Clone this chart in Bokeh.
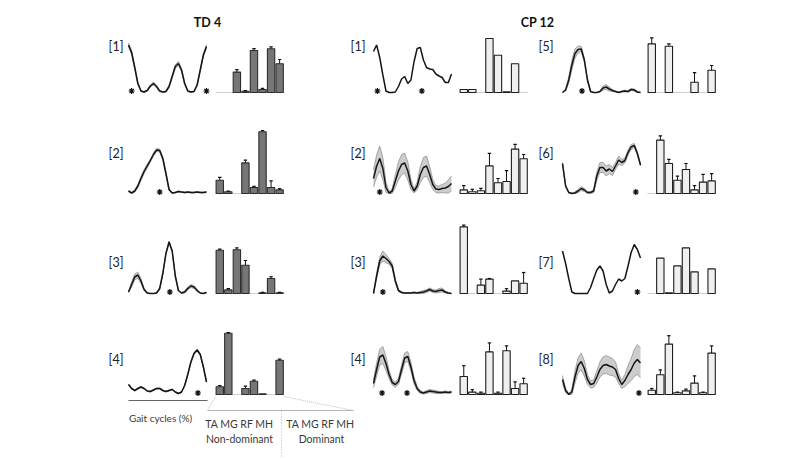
import numpy as np
from bokeh.plotting import figure
from bokeh.models import Range1d
from bokeh.embed import file_html
from bokeh.resources import INLINE
from bokeh.core.properties import value

# ---------------- data ----------------
gait_pct = list(range(0, 101, 4))          # gait cycle (%) sample points
muscles = ["TA", "MG", "RF", "MH", "TA", "MG", "RF", "MH"]

# TD 4 -------------------------------------------------------------
td1_mean = [0.95, 0.80, 0.50, 0.18, 0.03, 0.01, 0.04, 0.13, 0.18, 0.12, 0.03, 0.01, 0.02,
            0.12, 0.32, 0.52, 0.58, 0.45, 0.18, 0.03, 0.01, 0.02, 0.15, 0.45, 0.75, 0.92]
td1_sd = [0.04, 0.04, 0.03, 0.02, 0.01, 0.01, 0.01, 0.02, 0.03, 0.02, 0.01, 0.01, 0.01,
          0.02, 0.03, 0.04, 0.04, 0.03, 0.02, 0.01, 0.01, 0.01, 0.02, 0.03, 0.03, 0.04]
td1_stars = [4, 100]
td1_bars = [0.0, 0.0, 0.34, 0.02, 0.70, 0.05, 0.73, 0.48]
td1_err = [0.0, 0.0, 0.04, 0.01, 0.03, 0.02, 0.03, 0.07]

td2_mean = [0.05, 0.01, 0.05, 0.15, 0.30, 0.44, 0.55, 0.66, 0.78, 0.87, 0.86, 0.70, 0.40,
            0.08, 0.01, 0.02, 0.04, 0.03, 0.02, 0.03, 0.02, 0.02, 0.03, 0.02, 0.02, 0.03]
td2_sd = [0.01, 0.01, 0.02, 0.03, 0.04, 0.04, 0.04, 0.03, 0.03, 0.03, 0.03, 0.03, 0.03,
          0.02, 0.01, 0.01, 0.01, 0.01, 0.01, 0.01, 0.01, 0.01, 0.01, 0.01, 0.01, 0.01]
td2_stars = [40]
td2_bars = [0.22, 0.03, 0.0, 0.51, 0.10, 1.03, 0.10, 0.06]
td2_err = [0.05, 0.01, 0.0, 0.045, 0.02, 0.02, 0.11, 0.02]

td3_mean = [0.03, 0.18, 0.33, 0.37, 0.25, 0.08, 0.01, 0.0, 0.0, 0.01, 0.10, 0.40, 0.80,
            1.03, 0.85, 0.35, 0.06, 0.01, 0.03, 0.10, 0.15, 0.13, 0.06, 0.01, 0.0, 0.02]
td3_sd = [0.01, 0.05, 0.06, 0.06, 0.05, 0.02, 0.01, 0.0, 0.0, 0.01, 0.02, 0.02, 0.02,
          0.02, 0.02, 0.02, 0.01, 0.01, 0.02, 0.03, 0.03, 0.03, 0.02, 0.01, 0.0, 0.01]
td3_stars = [53]
td3_bars = [0.72, 0.06, 0.73, 0.47, 0.0, 0.01, 0.25, 0.01]
td3_err = [0.02, 0.02, 0.03, 0.08, 0.0, 0.01, 0.03, 0.01]

td4_mean = [0.20, 0.12, 0.08, 0.12, 0.15, 0.12, 0.07, 0.06, 0.09, 0.12, 0.12, 0.08, 0.06,
            0.08, 0.10, 0.05, 0.02, 0.05, 0.18, 0.40, 0.65, 0.82, 0.89, 0.80, 0.55, 0.25]
td4_sd = [0.01, 0.01, 0.01, 0.01, 0.01, 0.01, 0.01, 0.01, 0.01, 0.01, 0.01, 0.01, 0.01,
          0.01, 0.01, 0.01, 0.01, 0.01, 0.01, 0.02, 0.02, 0.02, 0.02, 0.02, 0.02, 0.01]
td4_stars = [89]
td4_bars = [0.13, 1.02, 0.0, 0.10, 0.22, 0.01, 0.0, 0.57]
td4_err = [0.02, 0.01, 0.0, 0.04, 0.02, 0.0, 0.0, 0.02]

# CP 12 ------------------------------------------------------------
cp1_mean = [0.82, 0.95, 0.70, 0.35, 0.03, 0.0, 0.0, 0.01, 0.12, 0.27, 0.32, 0.18, 0.25,
            0.62, 0.88, 0.90, 0.65, 0.50, 0.47, 0.46, 0.37, 0.33, 0.30, 0.20, 0.20, 0.37]
cp1_sd = [0.0] * 26
cp1_stars = [5, 62]
cp1_bars = [0.05, 0.05, 0.0, 0.90, 0.62, 0.01, 0.48, 0.0]
cp1_err = [0.0] * 8

cp2_mean = [0.30, 0.55, 0.70, 0.50, 0.12, 0.01, 0.05, 0.25, 0.45, 0.58, 0.61, 0.45, 0.18,
            0.05, 0.15, 0.38, 0.52, 0.55, 0.38, 0.18, 0.09, 0.08, 0.10, 0.11, 0.14, 0.20]
cp2_sd = [0.17, 0.22, 0.25, 0.22, 0.10, 0.03, 0.05, 0.12, 0.18, 0.20, 0.20, 0.18, 0.10,
          0.04, 0.08, 0.16, 0.20, 0.20, 0.16, 0.10, 0.07, 0.07, 0.08, 0.10, 0.13, 0.15]
cp2_stars = [8]
cp2_bars = [0.06, 0.03, 0.045, 0.46, 0.18, 0.20, 0.74, 0.58]
cp2_err = [0.07, 0.04, 0.04, 0.21, 0.07, 0.18, 0.08, 0.07]

cp3_mean = [0.0, 0.35, 0.65, 0.75, 0.70, 0.64, 0.55, 0.25, 0.06, 0.02, 0.01, 0.01, 0.01,
            0.02, 0.01, 0.02, 0.03, 0.05, 0.08, 0.05, 0.04, 0.06, 0.07, 0.03, 0.01, 0.0]
cp3_sd = [0.0, 0.05, 0.08, 0.10, 0.08, 0.06, 0.05, 0.04, 0.02, 0.01, 0.01, 0.01, 0.01,
          0.01, 0.01, 0.02, 0.03, 0.03, 0.03, 0.03, 0.03, 0.04, 0.04, 0.02, 0.01, 0.0]
cp3_stars = [12]
cp3_bars = [1.11, 0.0, 0.14, 0.24, 0.0, 0.04, 0.21, 0.17]
cp3_err = [0.03, 0.0, 0.10, 0.01, 0.0, 0.04, 0.0, 0.18]

cp4_mean = [0.22, 0.50, 0.75, 0.79, 0.62, 0.40, 0.24, 0.20, 0.26, 0.50, 0.73, 0.76, 0.55,
            0.28, 0.12, 0.05, 0.03, 0.05, 0.07, 0.06, 0.05, 0.04, 0.04, 0.05, 0.04, 0.05]
cp4_sd = [0.08, 0.13, 0.16, 0.17, 0.14, 0.08, 0.05, 0.05, 0.06, 0.09, 0.10, 0.10, 0.09,
          0.07, 0.04, 0.03, 0.02, 0.03, 0.03, 0.03, 0.03, 0.02, 0.02, 0.02, 0.02, 0.02]
cp4_stars = [11, 43]
cp4_bars = [0.30, 0.04, 0.02, 0.71, 0.02, 0.73, 0.10, 0.18]
cp4_err = [0.18, 0.04, 0.02, 0.15, 0.02, 0.08, 0.11, 0.09]

cp5_mean = [0.0, 0.05, 0.25, 0.55, 0.78, 0.86, 0.87, 0.65, 0.25, 0.02, 0.0, 0.0, 0.02,
            0.09, 0.11, 0.07, 0.04, 0.02, 0.0, 0.02, 0.03, 0.02, 0.06, 0.05, 0.01, 0.0]
cp5_sd = [0.0, 0.02, 0.06, 0.10, 0.09, 0.07, 0.05, 0.04, 0.03, 0.01, 0.0, 0.0, 0.01,
          0.04, 0.05, 0.04, 0.02, 0.01, 0.01, 0.01, 0.02, 0.01, 0.02, 0.02, 0.01, 0.0]
cp5_stars = [25]
cp5_bars = [0.81, 0.0, 0.77, 0.0, 0.0, 0.17, 0.0, 0.37]
cp5_err = [0.10, 0.0, 0.04, 0.0, 0.0, 0.16, 0.0, 0.08]

cp6_mean = [0.60, 0.15, 0.02, 0.0, 0.01, 0.05, 0.10, 0.07, 0.02, 0.02, 0.05, 0.35, 0.52,
            0.52, 0.45, 0.49, 0.44, 0.55, 0.67, 0.62, 0.66, 0.82, 0.93, 0.96, 0.80, 0.57]
cp6_sd = [0.02, 0.02, 0.01, 0.01, 0.02, 0.03, 0.04, 0.03, 0.02, 0.02, 0.03, 0.08, 0.10,
          0.10, 0.10, 0.09, 0.08, 0.07, 0.08, 0.06, 0.05, 0.05, 0.05, 0.04, 0.03, 0.02]
cp6_stars = [94]
cp6_bars = [0.0, 0.89, 0.50, 0.22, 0.40, 0.06, 0.19, 0.21]
cp6_err = [0.0, 0.07, 0.07, 0.07, 0.10, 0.07, 0.13, 0.12]

cp7_mean = [0.85, 0.60, 0.30, 0.03, 0.0, 0.0, 0.0, 0.0, 0.0, 0.12, 0.30, 0.47, 0.55,
            0.45, 0.18, 0.01, 0.05, 0.18, 0.29, 0.25, 0.30, 0.55, 0.82, 0.98, 0.88, 0.71]
cp7_sd = [0.0] * 26
cp7_stars = [96]
cp7_bars = [0.0, 0.59, 0.01, 0.46, 0.76, 0.36, 0.0, 0.41]
cp7_err = [0.0] * 8

cp8_mean = [0.30, 0.08, 0.0, 0.05, 0.35, 0.58, 0.66, 0.52, 0.30, 0.20, 0.22, 0.35, 0.50,
            0.58, 0.60, 0.57, 0.55, 0.50, 0.32, 0.20, 0.28, 0.40, 0.50, 0.63, 0.70, 0.63]
cp8_sd = [0.08, 0.04, 0.02, 0.05, 0.12, 0.15, 0.17, 0.15, 0.10, 0.07, 0.08, 0.12, 0.15,
          0.17, 0.18, 0.18, 0.17, 0.15, 0.10, 0.08, 0.12, 0.18, 0.22, 0.27, 0.30, 0.30]
cp8_stars = [98]
cp8_bars = [0.07, 0.33, 0.84, 0.03, 0.06, 0.19, 0.03, 0.69]
cp8_err = [0.03, 0.08, 0.14, 0.01, 0.03, 0.12, 0.01, 0.12]

group_titles = ["TD 4", "CP 12"]
panel_labels = ["[1]", "[2]", "[3]", "[4]", "[1]", "[2]", "[3]", "[4]",
                "[5]", "[6]", "[7]", "[8]"]

# panels: (label, column, row, mean, sd, stars, bars, err, group)
panels = [
    (panel_labels[0], 0, 0, td1_mean, td1_sd, td1_stars, td1_bars, td1_err, "td"),
    (panel_labels[1], 0, 1, td2_mean, td2_sd, td2_stars, td2_bars, td2_err, "td"),
    (panel_labels[2], 0, 2, td3_mean, td3_sd, td3_stars, td3_bars, td3_err, "td"),
    (panel_labels[3], 0, 3, td4_mean, td4_sd, td4_stars, td4_bars, td4_err, "td"),
    (panel_labels[4], 1, 0, cp1_mean, cp1_sd, cp1_stars, cp1_bars, cp1_err, "cp"),
    (panel_labels[5], 1, 1, cp2_mean, cp2_sd, cp2_stars, cp2_bars, cp2_err, "cp"),
    (panel_labels[6], 1, 2, cp3_mean, cp3_sd, cp3_stars, cp3_bars, cp3_err, "cp"),
    (panel_labels[7], 1, 3, cp4_mean, cp4_sd, cp4_stars, cp4_bars, cp4_err, "cp"),
    (panel_labels[8], 2, 0, cp5_mean, cp5_sd, cp5_stars, cp5_bars, cp5_err, "cp"),
    (panel_labels[9], 2, 1, cp6_mean, cp6_sd, cp6_stars, cp6_bars, cp6_err, "cp"),
    (panel_labels[10], 2, 2, cp7_mean, cp7_sd, cp7_stars, cp7_bars, cp7_err, "cp"),
    (panel_labels[11], 2, 3, cp8_mean, cp8_sd, cp8_stars, cp8_bars, cp8_err, "cp"),
]

# ---------------- layout ----------------
W, H = 785, 459
curve_left = [128, 373, 562]
curve_w = 78.0
bar_left = [215, 459, 647]
bar_slot = 8.55
row_base = [92, 193, 293, 394]
curve_px = 50.0
bar_px = 60.0
label_right = [123, 365, 553]
label_y = [46, 153, 262, 359]
FONT = "Lato"

p = figure(width=W, height=H, x_range=Range1d(0, W), y_range=Range1d(H, 0),
           output_backend="svg", toolbar_location=None,
           x_axis_location=None, y_axis_location=None, min_border=0,
           outline_line_color=None, background_fill_color="white",
           border_fill_color="white")
p.xgrid.visible = False
p.ygrid.visible = False


def xrange_for(left_px, px_per_unit):
    start = -left_px / px_per_unit
    return Range1d(start, start + W / px_per_unit)


def yrange_for(base_px, px_per_unit):
    up = H - base_px
    start = -up / px_per_unit
    return Range1d(start, start + H / px_per_unit)


for c in range(3):
    p.extra_x_ranges["cx%d" % c] = xrange_for(curve_left[c], curve_w / 100.0)
    p.extra_x_ranges["bx%d" % c] = xrange_for(bar_left[c], bar_slot)
for r in range(4):
    p.extra_y_ranges["cy%d" % r] = yrange_for(row_base[r], curve_px)
    p.extra_y_ranges["by%d" % r] = yrange_for(row_base[r], bar_px)

for label, c, r, mean, sd, stars, bars, err, grp in panels:
    cx, cy, bx, by = "cx%d" % c, "cy%d" % r, "bx%d" % c, "by%d" % r
    m = np.array(mean)
    s = np.array(sd)
    if s.max() > 0:
        lo = np.maximum(m - s, 0.0)
        hi = m + s
        p.varea(x=gait_pct, y1=lo, y2=hi, fill_color="#cccccc",
                x_range_name=cx, y_range_name=cy)
        p.line(gait_pct, hi, line_color="#939393", line_width=0.8,
               x_range_name=cx, y_range_name=cy)
        p.line(gait_pct, lo, line_color="#939393", line_width=0.8,
               x_range_name=cx, y_range_name=cy)
    p.line(gait_pct, m, line_color="#151515", line_width=1.5,
           x_range_name=cx, y_range_name=cy)
    p.scatter(x=stars, y=[0.03] * len(stars), marker="asterisk", size=6,
              line_color="#111111", line_width=1.2,
              x_range_name=cx, y_range_name=cy)

    # bar group
    p.line([0, 8], [0, 0], line_color="#cfcfcf", line_width=1,
           x_range_name=bx, y_range_name=by)
    xs = np.arange(8) + 0.5
    vals = np.array(bars)
    errs = np.array(err)
    fill = "#767676" if grp == "td" else "#efefef"
    edge = "#2e2e2e" if grp == "td" else "#1e1e1e"
    show = vals > 0
    p.vbar(x=xs[show], width=0.86, top=vals[show], bottom=0,
           fill_color=fill, line_color=edge, line_width=1.1,
           x_range_name=bx, y_range_name=by)
    e = errs > 0
    p.segment(x0=xs[e], y0=vals[e], x1=xs[e], y1=vals[e] + errs[e],
              line_color="#111111", line_width=1,
              x_range_name=bx, y_range_name=by)
    p.segment(x0=xs[e] - 0.2, y0=vals[e] + errs[e], x1=xs[e] + 0.2,
              y1=vals[e] + errs[e], line_color="#111111", line_width=1.2,
              x_range_name=bx, y_range_name=by)

    p.text(x=[label_right[c]], y=[label_y[r]], text=[label],
           text_font=value(FONT), text_font_size=value("12.5px"),
           text_color="#222222", text_align="right", text_baseline="middle")

# group titles
p.text(x=[207, 537], y=[22, 22], text=group_titles, text_font=value(FONT),
       text_font_size=value("12.5px"), text_font_style="bold",
       text_color="#111111", text_align="center", text_baseline="middle")

# bottom annotation (axis line and muscle legend)
p.line([128, 207], [400, 400], line_color="#666666", line_width=1)
p.line([207, 353], [410, 410], line_color="#a0a0a0", line_width=0.8)
p.line([215, 207], [396, 410], line_color="#b0b0b0", line_width=0.8,
       line_dash="1 1")
p.line([283, 353], [396, 410], line_color="#b0b0b0", line_width=0.8,
       line_dash="1 1")
p.line([281, 281], [410, 456], line_color="#a0a0a0", line_width=0.8,
       line_dash="1 2")

p.text(x=[160], y=[417], text=["Gait cycles (%)"], text_font=value(FONT),
       text_font_size=value("10px"), text_color="#3a3a3a",
       text_align="center", text_baseline="middle")
p.text(x=[239, 320], y=[423, 423], text=[" ".join(muscles[:4]), " ".join(muscles[4:])],
       text_font=value(FONT), text_font_size=value("10.5px"), text_color="#3a3a3a",
       text_align="center", text_baseline="middle")
p.text(x=[239, 321], y=[438, 438], text=["Non-dominant", "Dominant"],
       text_font=value(FONT), text_font_size=value("10.5px"), text_color="#3a3a3a",
       text_align="center", text_baseline="middle")

open("out.html", "w").write(file_html(p, INLINE))
